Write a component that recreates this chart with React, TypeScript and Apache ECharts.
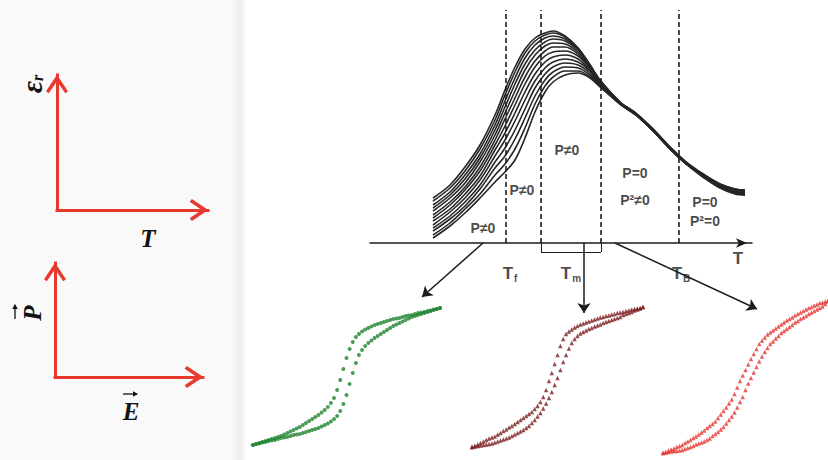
import React, { useEffect, useRef } from 'react';
import * as echarts from 'echarts';

// ---------- main permittivity plot (T in arbitrary units, eps_r in arbitrary units) ----------
const tempPoints = [63, 80, 95, 110, 125, 135, 145, 155, 165, 175, 183, 195, 208, 220, 230, 250, 267, 285, 300, 315, 333, 350, 365, 375];
const eps01 = [45, 58, 76, 98, 128, 153, 176, 194, 205, 210, 212, 207, 195, 178, 163, 141, 129, 112, 96, 82, 69, 59, 54, 53];
const eps02 = [42, 55, 72, 94, 123, 148, 171, 190, 202, 208, 210, 206, 195, 178, 163, 141, 129, 112, 96, 82, 69, 59, 54, 53];
const eps03 = [38, 51, 68, 89, 118, 142, 165, 185, 198, 205, 207, 204, 194, 178, 162, 141, 128, 111, 95, 81, 68, 58, 53, 52];
const eps04 = [35, 48, 64, 85, 113, 136, 159, 179, 193, 201, 204, 202, 193, 177, 162, 140, 128, 111, 95, 81, 68, 58, 53, 52];
const eps05 = [32, 45, 60, 81, 108, 130, 152, 173, 188, 197, 200, 199, 191, 177, 162, 140, 128, 111, 95, 81, 68, 58, 53, 52];
const eps06 = [28, 41, 56, 76, 103, 124, 145, 166, 182, 192, 196, 196, 189, 176, 161, 140, 128, 111, 95, 81, 68, 58, 52, 51];
const eps07 = [25, 38, 53, 72, 98, 117, 138, 159, 176, 187, 191, 192, 187, 175, 161, 140, 128, 111, 95, 81, 68, 57, 52, 51];
const eps08 = [22, 34, 49, 67, 93, 110, 130, 151, 169, 181, 186, 188, 184, 173, 160, 140, 128, 111, 95, 81, 67, 57, 52, 50];
const eps09 = [18, 31, 45, 63, 87, 103, 122, 143, 162, 175, 181, 184, 181, 172, 159, 139, 128, 111, 95, 80, 67, 57, 51, 50];
const eps10 = [15, 27, 41, 58, 81, 95, 113, 134, 155, 169, 176, 180, 178, 170, 159, 139, 128, 111, 95, 80, 67, 56, 51, 49];
const eps11 = [12, 24, 37, 54, 75, 87, 104, 125, 147, 163, 171, 176, 175, 168, 158, 139, 127, 110, 94, 80, 67, 56, 50, 49];
const eps12 = [8, 20, 34, 49, 68, 79, 94, 115, 139, 157, 166, 172, 172, 166, 157, 139, 127, 110, 94, 80, 66, 56, 50, 48];
const eps13 = [5, 17, 30, 45, 61, 71, 83, 105, 131, 151, 161, 168, 170, 165, 156, 139, 127, 110, 94, 80, 66, 55, 49, 48];

// transition temperatures (dashed lines): Tf, Tm (low edge), Tm (high edge), TB
const dashedTemps = [136, 171, 231, 309];
// bracket under Tm
const bracketLow = 171;
const bracketHigh = 231;
const bracketDepth = -9;
// arrows from the T axis to the loops
const arrowFromT = [113, 214, 245];
const arrowToT = [52, 214, 387];
const arrowToEps = [-54, -70, -66];

// region labels
const regionLabels = ['P≠0', 'P≠0', 'P≠0', 'P=0', 'P²≠0', 'P=0', 'P²=0'];
const regionLabelT = [113, 152, 197, 265, 265, 335, 335];
const regionLabelEps = [15, 53, 93, 70, 43, 41, 22];
// temperature labels
const tempLabelMain = ['T', 'T', 'T', 'T'];
const tempLabelSub = ['f', 'm', 'B', ''];
const tempLabelT = [140, 201, 311, 368];
const tempLabelEps = [-30, -30, -30, -15];

// ---------- hysteresis loops (field step index, polarization in arbitrary units) ----------
const fieldSteps = [-30, -29, -28, -27, -26, -25, -24, -23, -22, -21, -20, -19, -18, -17, -16, -15, -14, -13, -12, -11, -10, -9, -8, -7, -6, -5, -4, -3, -2, -1, 0, 1, 2, 3, 4, 5, 6, 7, 8, 9, 10, 11, 12, 13, 14, 15, 16, 17, 18, 19, 20, 21, 22, 23, 24, 25, 26, 27, 28, 29, 30];

const greenUpper = [-68.5, -67.5, -66.5, -65.5, -64.5, -63.5, -62.5, -61.5, -60.5, -59.5,
  -58, -56.5, -55, -53.5, -52, -50.5, -48.5, -46.5, -44.5, -42.5,
  -40.5, -38.5, -36, -33.5, -30.5, -26.5, -21.5, -13.5, -3.5, 7.5,
  18.5, 27.5, 34.5, 39.5, 42.5, 45, 47, 48.5, 50, 51.5,
  52.5, 53.5, 54.5, 55.5, 56.5, 57.5, 58, 58.5, 59.5, 60.5,
  61, 61.5, 62.5, 63.5, 64, 64.5, 65.5, 66, 67, 67.5,
  68.5];
const greenLower = [-68.5, -67.5, -67, -66, -65.5, -64.5, -64, -63.5, -62.5, -61.5,
  -61, -60.5, -59.5, -58.5, -58, -57.5, -56.5, -55.5, -54.5, -53.5,
  -52.5, -51.5, -50, -48.5, -47, -45, -42.5, -39.5, -34.5, -27.5,
  -18.5, -7.5, 3.5, 13.5, 21.5, 26.5, 30.5, 33.5, 36, 38.5,
  40.5, 42.5, 44.5, 46.5, 48.5, 50.5, 52, 53.5, 55, 56.5,
  58, 59.5, 60.5, 61.5, 62.5, 63.5, 64.5, 65.5, 66.5, 67.5,
  68.5];
const brownUpper = [-70, -69, -67.5, -66, -64.5, -63, -61.5, -60.5, -59.5, -57.5,
  -56, -54, -52.5, -50.5, -49, -47, -45, -43, -41, -39,
  -37, -35, -32, -29, -25, -20, -13, -4, 4, 13,
  22, 31, 38, 43, 45.5, 47.5, 49.5, 51, 52.5, 53.5,
  54.5, 55.5, 56.5, 57.5, 58.5, 59.5, 60, 61, 61.5, 62.5,
  63, 64, 64.5, 65, 66, 66.5, 67.5, 68, 68.5, 69,
  70];
const brownLower = [-70, -69.5, -69, -68.5, -68, -67.5, -67, -66.5, -65.5, -64.5,
  -63.5, -62.5, -61.5, -60.5, -59, -57.5, -56, -54.5, -53, -51,
  -49, -46, -43, -39.5, -36, -31.5, -26.5, -21, -15, -8,
  -1, 7, 15, 22, 28.5, 34, 38, 41, 43.5, 45,
  46.5, 48, 49, 50.5, 51.5, 52.5, 54, 55, 56, 57,
  58, 59, 60, 62, 63, 64, 65, 66.5, 67.5, 68.5,
  70];
const redUpper = [-76, -75, -73.5, -72.5, -71.5, -70, -69, -68, -66, -64.5,
  -63, -61, -59.5, -57.5, -55.5, -53.5, -51, -49, -47, -44.5,
  -41, -37.5, -34, -30.5, -26.5, -22.5, -17, -10.5, -4, 1.5,
  7, 12.5, 18, 23, 28, 33, 36.5, 39.5, 42.5, 44.5,
  46.5, 48.5, 50.5, 52.5, 54.5, 56.5, 58, 59.5, 61.5, 63,
  64.5, 66, 67.5, 69, 70, 71.5, 72.5, 74, 74.5, 75.5,
  76];
const redLower = [-76, -75.5, -75, -74.5, -74, -74, -73.5, -73, -72, -71,
  -70, -69, -67.5, -66.5, -65.5, -64.5, -63, -61.5, -59, -57,
  -55, -52.5, -50, -46.5, -43, -39.5, -35.5, -30.5, -25, -20,
  -13, -6.5, -1, 4.5, 10, 15.5, 20.5, 25, 29, 33,
  35.5, 38.5, 41, 44, 46, 48, 50, 52, 54.5, 56,
  58, 59.5, 61, 63, 64.5, 66, 67.5, 69, 70.5, 73,
  76];

const RED = '#e8392e';
const INK = '#1c1c1c';
const chevron = 'path://M10,0 L20,15 L17.5,17 L10,6 L2.5,17 L0,15 Z';

const hiddenAxis = (gridIndex: number, min: number, max: number) => ({
  gridIndex, type: 'value', min, max, show: false,
});

const arrowAxis = (gridIndex: number) => ({
  gridIndex, type: 'value', min: 0, max: 1,
  axisLine: {
    show: true, onZero: false,
    lineStyle: { color: RED, width: 3, cap: 'square' },
    symbol: ['none', chevron], symbolSize: [22, 20], symbolOffset: [0, -9],
  },
  axisTick: { show: false }, axisLabel: { show: false }, splitLine: { show: false },
});

const serifBold = { fontFamily: 'Liberation Serif', fontStyle: 'italic', fontWeight: 'bold', fill: '#111' };

function buildOption() {
  const curves = [eps01, eps02, eps03, eps04, eps05, eps06, eps07, eps08, eps09, eps10, eps11, eps12, eps13];
  const curveSeries = curves.map((eps) => ({
    type: 'line', xAxisIndex: 0, yAxisIndex: 0, silent: true, z: 3,
    data: tempPoints.map((t, j) => [t, eps[j]]),
    smooth: 0.35, symbol: 'none',
    lineStyle: { color: '#262626', width: 1.6 },
  }));

  const pair = (ps: number[]) => fieldSteps.map((e, i) => [e, ps[i]]);
  const loop = (idx: number, data: number[], symbol: string, size: number, color: string) => ({
    type: 'scatter', xAxisIndex: idx, yAxisIndex: idx, silent: true, clip: false,
    data: pair(data), symbol, symbolSize: size, itemStyle: { color },
  });

  const labelData = [
    ...regionLabels.map((txt, i) => ({ name: txt, value: [regionLabelT[i], regionLabelEps[i]] })),
    ...tempLabelMain.map((txt, i) => ({ name: `{t|${txt}}` + (tempLabelSub[i] ? `{s|${tempLabelSub[i]}}` : ''), value: [tempLabelT[i], tempLabelEps[i]] })),
  ];

  return {
    animation: false,
    grid: [
      { left: 370, top: 10, width: 382, height: 320 },
      { left: 57, top: 75, width: 151, height: 135 },
      { left: 55, top: 263, width: 148, height: 114 },
      { left: 253, top: 308, width: 187, height: 137 },
      { left: 472, top: 307, width: 171, height: 140 },
      { left: 663, top: 301, width: 174, height: 152 },
      // overlay grid sharing the T scale of grid 0, extended to the right for the arrows
      { left: 370, top: 10, width: 420, height: 320 },
    ],
    xAxis: [
      {
        gridIndex: 0, type: 'value', min: 0, max: 382,
        axisLine: {
          show: true, onZero: true,
          lineStyle: { color: INK, width: 1.5 },
          symbol: ['none', 'arrow'], symbolSize: [7, 11], symbolOffset: [0, -5],
        },
        axisTick: { show: false }, axisLabel: { show: false }, splitLine: { show: false },
      },
      arrowAxis(1),
      arrowAxis(2),
      hiddenAxis(3, -30, 30),
      hiddenAxis(4, -30, 30),
      hiddenAxis(5, -30, 30),
      hiddenAxis(6, 0, 420),
    ],
    yAxis: [
      hiddenAxis(0, -87, 233),
      arrowAxis(1),
      arrowAxis(2),
      hiddenAxis(3, -68.5, 68.5),
      hiddenAxis(4, -70, 70),
      hiddenAxis(5, -76, 76),
      hiddenAxis(6, -87, 233),
    ],
    graphic: [
      {
        type: 'text', x: 31, y: 84, rotation: Math.PI / 2, z: 10,
        style: {
          text: '{e|ε}{r|r}', align: 'center', verticalAlign: 'middle',
          rich: {
            e: { ...serifBold, fontSize: 30, lineHeight: 28 },
            r: { ...serifBold, fontSize: 16, verticalAlign: 'bottom', lineHeight: 14 },
          },
        },
      },
      {
        type: 'text', x: 148, y: 238, z: 10,
        style: { text: 'T', align: 'center', verticalAlign: 'middle', ...serifBold, fontSize: 25 },
      },
      // vector P (rotated) with its arrow
      {
        type: 'text', x: 32, y: 313, rotation: Math.PI / 2, z: 10,
        style: { text: 'P', align: 'center', verticalAlign: 'middle', ...serifBold, fontSize: 25 },
      },
      {
        type: 'group', x: 15, y: 319, z: 10, rotation: Math.PI / 2,
        children: [
          { type: 'line', shape: { x1: 0, y1: 0, x2: 14, y2: 0 }, style: { stroke: '#111', lineWidth: 1.3 } },
          { type: 'polygon', shape: { points: [[15, 0], [10, -2.8], [10, 2.8]] }, style: { fill: '#111' } },
        ],
      },
      // vector E with its arrow
      {
        type: 'text', x: 131, y: 411, z: 10,
        style: { text: 'E', align: 'center', verticalAlign: 'middle', ...serifBold, fontSize: 25 },
      },
      {
        type: 'group', x: 123, y: 394, z: 10,
        children: [
          { type: 'line', shape: { x1: 0, y1: 0, x2: 14, y2: 0 }, style: { stroke: '#111', lineWidth: 1.3 } },
          { type: 'polygon', shape: { points: [[15, 0], [10, -2.8], [10, 2.8]] }, style: { fill: '#111' } },
        ],
      },
    ],
    series: [
      ...curveSeries,
      {
        type: 'line', xAxisIndex: 0, yAxisIndex: 0, data: [], silent: true, clip: false,
        markLine: {
          silent: true, symbol: ['none', 'none'], label: { show: false },
          lineStyle: { color: INK, width: 1.6, type: [5, 3] },
          data: dashedTemps.map((t) => [{ coord: [t, 0] }, { coord: [t, 233] }]),
        },
      },
      {
        type: 'line', xAxisIndex: 6, yAxisIndex: 6, data: [], silent: true, clip: false,
        markLine: {
          silent: true, symbol: ['none', 'none'], label: { show: false },
          lineStyle: { color: INK, width: 1, type: 'solid' },
          data: [
            [{ coord: [bracketLow, 0] }, { coord: [bracketLow, bracketDepth] }],
            [{ coord: [bracketLow, bracketDepth] }, { coord: [bracketHigh, bracketDepth] }],
            [{ coord: [bracketHigh, bracketDepth] }, { coord: [bracketHigh, 0] }],
          ],
        },
      },
      {
        type: 'line', xAxisIndex: 6, yAxisIndex: 6, data: [], silent: true, clip: false,
        markLine: {
          silent: true, symbol: ['none', 'arrow'], symbolSize: 10, label: { show: false },
          lineStyle: { color: INK, width: 1.5, type: 'solid' },
          itemStyle: { color: INK },
          data: arrowFromT.map((t, i) => [
            { coord: [t, 0], symbol: 'none' },
            { coord: [arrowToT[i], arrowToEps[i]], symbol: 'arrow', symbolSize: 10 },
          ]),
        },
      },
      {
        type: 'scatter', xAxisIndex: 0, yAxisIndex: 0, silent: true, clip: false, z: 6,
        data: labelData, symbolSize: 1, itemStyle: { color: 'rgba(0,0,0,0)' },
        label: {
          show: true, position: 'inside', formatter: '{b}',
          fontFamily: 'Liberation Sans', fontWeight: 'bold', fontSize: 14, color: '#1a1a1a',
          rich: {
            t: { fontFamily: 'Liberation Sans', fontSize: 17, color: '#1a1a1a', lineHeight: 20 },
            s: { fontFamily: 'Liberation Sans', fontSize: 10, color: '#1a1a1a', lineHeight: 10, verticalAlign: 'bottom', padding: [6, 0, 0, 1] },
          },
        },
      },
      loop(3, greenUpper, 'circle', 4, '#1f8430'),
      loop(3, greenLower, 'circle', 4, '#1f8430'),
      loop(4, brownUpper, 'triangle', 4.4, '#7a1b1b'),
      loop(4, brownLower, 'triangle', 4.4, '#7a1b1b'),
      loop(5, redUpper, 'triangle', 4.4, '#e5352f'),
      loop(5, redLower, 'triangle', 4.4, '#e5352f'),
    ],
  };
}

export default function App() {
  const ref = useRef<HTMLDivElement>(null);
  useEffect(() => {
    if (!ref.current) return;
    const chart = echarts.init(ref.current, null, { renderer: 'svg' });
    chart.setOption(buildOption() as any);
    return () => chart.dispose();
  }, []);
  return (
    <div
      ref={ref}
      style={{
        position: 'absolute', left: 0, top: 0, width: 828, height: 460,
        background: 'linear-gradient(to right, #f9f9f9 0px, #f9f9f9 232px, #eeeeee 240px, #ffffff 247px, #ffffff 100%)',
      }}
    />
  );
}
